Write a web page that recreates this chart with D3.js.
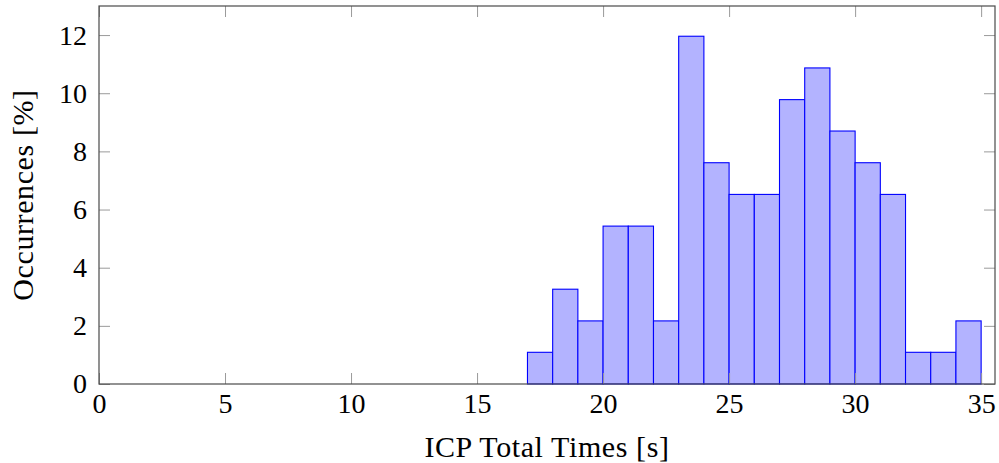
<!DOCTYPE html>
<html>
<head>
<meta charset="utf-8">
<script src="https://cdn.jsdelivr.net/npm/d3@7"></script>
<style>
  html, body { margin: 0; padding: 0; background: #fff; }
  svg { display: block; }
  text { font-family: "Liberation Serif", "Times New Roman", serif; fill: #000; }
</style>
</head>
<body>
<svg id="chart" width="999" height="463"></svg>
<script>
// Histogram bins (seconds) and share of runs per bin (%)
const binStarts = [17, 18, 19, 20, 21, 22, 23, 24, 25, 26, 27, 28, 29, 30, 31, 32, 33, 34];
const binWidth = 1;
const occurrences = [1.09, 3.26, 2.17, 5.43, 5.43, 2.17, 11.96, 7.61, 6.52, 6.52, 9.78, 10.87, 8.70, 7.61, 6.52, 1.09, 1.09, 2.17];
const xTicks = [0, 5, 10, 15, 20, 25, 30, 35];
const yTicks = [0, 2, 4, 6, 8, 10, 12];
const xLabel = "ICP Total Times [s]";
const yLabel = "Occurrences [%]";

const bins = binStarts.map((s, i) => ({ x0: s, x1: s + binWidth, v: occurrences[i] }));

const svg = d3.select("#chart");
const m = { left: 99, right: 995, top: 6, bottom: 384 };

const x = d3.scaleLinear().domain([0, 35.55]).range([m.left, m.right]);
const y = d3.scaleLinear().domain([0, 13]).range([m.bottom, m.top]);

// bars
svg.append("g").selectAll("rect").data(bins).join("rect")
  .attr("x", d => x(d.x0))
  .attr("y", d => y(d.v))
  .attr("width", d => x(d.x1) - x(d.x0))
  .attr("height", d => y(0) - y(d.v))
  .attr("fill", "#b3b3ff")
  .attr("stroke", "#0000ff")
  .attr("stroke-width", 1.1);

const tickLen = 11;
const fontSize = 28;
const serif = '"Liberation Serif", "Times New Roman", serif';
const styleAxis = g => {
  g.select(".domain").remove();
  g.attr("font-family", serif).attr("font-size", fontSize);
  g.selectAll(".tick line").attr("stroke", "#9a9a9a").attr("stroke-width", 1);
  g.selectAll(".tick text").style("font-family", serif).style("font-size", fontSize + "px").attr("fill", "#000");
};

// bottom axis: labels + inward ticks
svg.append("g").attr("transform", `translate(0,${m.bottom})`)
  .call(d3.axisBottom(x).tickValues(xTicks).tickFormat(d3.format("d")).tickSize(-tickLen).tickPadding(9))
  .call(styleAxis);

// top axis: inward ticks only
svg.append("g").attr("transform", `translate(0,${m.top})`)
  .call(d3.axisTop(x).tickValues(xTicks).tickFormat("").tickSize(-tickLen))
  .call(styleAxis);

// left axis: labels + inward ticks
svg.append("g").attr("transform", `translate(${m.left},0)`)
  .call(d3.axisLeft(y).tickValues(yTicks).tickFormat(d3.format("d")).tickSize(-tickLen).tickPadding(12))
  .call(styleAxis);

// right axis: inward ticks only
svg.append("g").attr("transform", `translate(${m.right},0)`)
  .call(d3.axisRight(y).tickValues(yTicks).tickFormat("").tickSize(-tickLen))
  .call(styleAxis);

// frame
svg.append("rect")
  .attr("x", m.left).attr("y", m.top)
  .attr("width", m.right - m.left).attr("height", m.bottom - m.top)
  .attr("fill", "none").attr("stroke", "#4a4a4a").attr("stroke-width", 1.2);

// axis titles
svg.append("text")
  .attr("x", (m.left + m.right) / 2).attr("y", 457)
  .attr("text-anchor", "middle")
  .style("font-size", "30px").attr("letter-spacing", 0.6)
  .text(xLabel);

svg.append("text")
  .attr("transform", `translate(33,${(m.top + m.bottom) / 2}) rotate(-90)`)
  .attr("text-anchor", "middle")
  .style("font-size", "30px").attr("letter-spacing", 0.6)
  .text(yLabel);
</script>
</body>
</html>
